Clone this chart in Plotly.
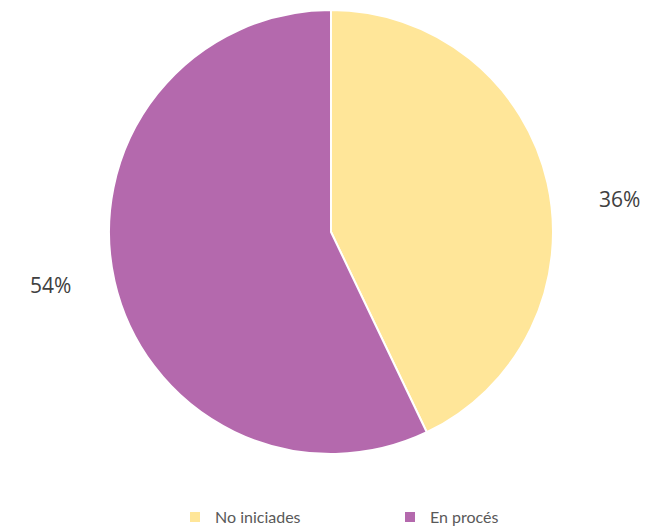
import plotly.graph_objects as go

labels = ["No iniciades", "En procés"]
percent_labels = [36, 54]          # text printed next to each slice
slice_shares = [42.9, 57.1]
colors = ["#FFE699", "#B469AD"]
label_pos = [(611, 191), (42, 277)]  # pixel positions of the percent labels

W, H = 662, 526

fig = go.Figure(go.Pie(
    labels=labels,
    values=slice_shares,
    customdata=percent_labels,
    marker=dict(colors=colors, line=dict(color="white", width=2)),
    sort=False,
    direction="clockwise",
    rotation=0,
    textinfo="none",
    hovertemplate="%{label}: %{customdata}%<extra></extra>",
    domain=dict(x=[0, 646 / W], y=[1 - 446 / H, 1 - 2 / H]),
))

annotations = []
for v, (px, py) in zip(percent_labels, label_pos):
    annotations.append(dict(
        text=f"{v}%", x=px / W, y=1 - py / H, xref="paper", yref="paper",
        showarrow=False, font=dict(family="Open Sans, Lato, sans-serif", size=21, color="#404040"),
        xanchor="center", yanchor="middle",
    ))

fig.update_layout(
    width=W, height=H,
    margin=dict(l=0, r=0, t=0, b=0),
    paper_bgcolor="white",
    annotations=annotations,
    showlegend=True,
    legend=dict(
        orientation="h", x=0.5 + 51 / W, xanchor="center", y=0.0, yanchor="bottom",
        font=dict(family="Lato, Open Sans, sans-serif", size=16, color="#595959"),
        entrywidth=170, entrywidthmode="pixels",
        itemclick=False, itemdoubleclick=False,
    ),
)

fig.write_html("out.html")
